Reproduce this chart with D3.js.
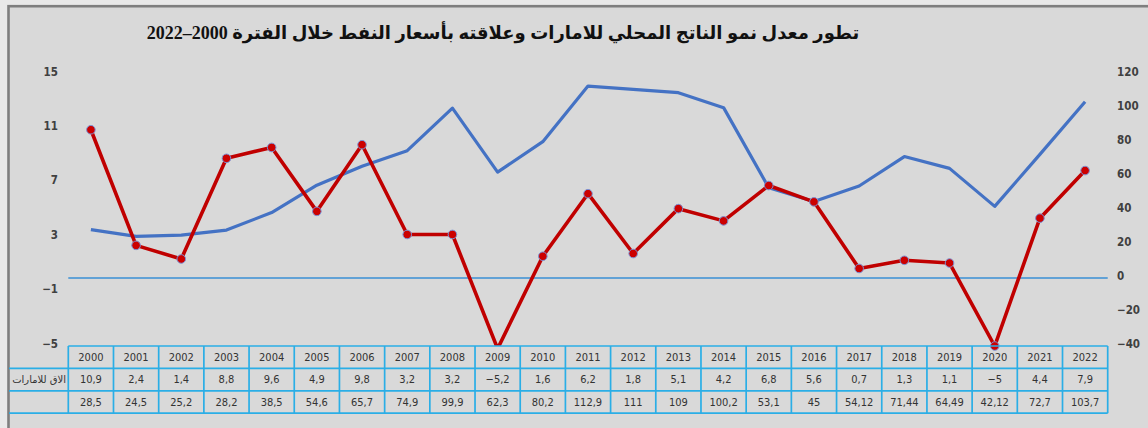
<!DOCTYPE html>
<html>
<head>
<meta charset="utf-8">
<script src="https://cdn.jsdelivr.net/npm/d3@7"></script>
<style>
  body { margin: 0; background: #e9e9e9; }
  svg { display: block; }
</style>
</head>
<body>
<svg></svg>
<script>
// data
var years = ["2000","2001","2002","2003","2004","2005","2006","2007","2008","2009","2010","2011",
             "2012","2013","2014","2015","2016","2017","2018","2019","2020","2021","2022"];
var gdpGrowth = [10.9, 2.4, 1.4, 8.8, 9.6, 4.9, 9.8, 3.2, 3.2, -5.2, 1.6, 6.2,
                 1.8, 5.1, 4.2, 6.8, 5.6, 0.7, 1.3, 1.1, -5, 4.4, 7.9];
var oilPrice = [28.5, 24.5, 25.2, 28.2, 38.5, 54.6, 65.7, 74.9, 99.9, 62.3, 80.2, 112.9,
                111, 109, 100.2, 53.1, 45, 54.12, 71.44, 64.49, 42.12, 72.7, 103.7];
var leftTicks = [15, 11, 7, 3, -1, -5];
var rightTicks = [120, 100, 80, 60, 40, 20, 0, -20, -40];
var gdpLabel = "الاق للامارات";
var oilLabel = "";
var title = "تطور معدل نمو الناتج المحلي للامارات وعلاقته بأسعار النفط خلال الفترة 2000–2022";

var width = 1148, height = 428;
var tableTop = 346, rowH = 22.4;

var svg = d3.select("svg")
    .attr("width", width)
    .attr("height", height);

// chart frame
svg.append("rect")
    .attr("x", 8.5).attr("y", 6.2)
    .attr("width", width + 10).attr("height", height + 10)
    .attr("fill", "#d9d9d9")
    .attr("stroke", "#7f7f7f")
    .attr("stroke-width", 2.6);

// scales
var x = d3.scaleBand().domain(years).range([68.3, 1107.7]);
var yL = d3.scaleLinear().domain([-5, 15]).range([tableTop, 74]);
var yR = d3.scaleLinear().domain([-40, 120]).range([tableTop, 74]);

function fmt(v) {
    return String(v).replace(".", ",").replace("-", "−");
}

// title
svg.append("text")
    .attr("x", 503).attr("y", 39)
    .attr("direction", "rtl")
    .attr("text-anchor", "middle")
    .style("font-family", "'Liberation Serif', 'DejaVu Sans', serif")
    .style("font-weight", "bold")
    .style("font-size", "18px")
    .attr("fill", "#111")
    .text(title);

// axes
svg.append("g")
    .attr("transform", "translate(58,0)")
    .call(d3.axisLeft(yL).tickValues(leftTicks).tickSize(0).tickPadding(0).tickFormat(fmt));
svg.append("g")
    .attr("transform", "translate(1117,0)")
    .call(d3.axisRight(yR).tickValues(rightTicks).tickSize(0).tickPadding(0).tickFormat(fmt));
svg.selectAll(".domain").remove();
svg.selectAll(".tick text")
    .attr("dy", "0.1em")
    .style("font-family", "'DejaVu Sans Condensed', 'DejaVu Sans', sans-serif")
    .style("font-weight", "bold")
    .style("font-size", "11.5px")
    .attr("fill", "#404040");

// zero line
svg.append("line")
    .attr("x1", 68.3).attr("x2", 1107.7)
    .attr("y1", yR(0)).attr("y2", yR(0))
    .attr("stroke", "#3a8fd4")
    .attr("stroke-width", 1.6);

svg.append("clipPath").attr("id", "plot")
    .append("rect").attr("x", 60).attr("y", 60).attr("width", 1055).attr("height", tableTop - 60);

// oil price line
var oilLine = d3.line()
    .x(function(d, i) { return x(years[i]) + x.bandwidth() / 2; })
    .y(function(d) { return yR(d); });
svg.append("path")
    .datum(oilPrice)
    .attr("clip-path", "url(#plot)")
    .attr("d", oilLine)
    .attr("fill", "none")
    .attr("stroke", "#4472c4")
    .attr("stroke-width", 3.2)
    .attr("stroke-linejoin", "round");

// gdp growth line
var gdpLine = d3.line()
    .x(function(d, i) { return x(years[i]) + x.bandwidth() / 2; })
    .y(function(d) { return yL(d); });
svg.append("path")
    .datum(gdpGrowth)
    .attr("clip-path", "url(#plot)")
    .attr("d", gdpLine)
    .attr("fill", "none")
    .attr("stroke", "#c00000")
    .attr("stroke-width", 3.6)
    .attr("stroke-linejoin", "round");

svg.append("g")
    .selectAll("circle")
    .data(gdpGrowth.map(function(d, i) { return {year: years[i], v: d}; })
        .filter(function(d) { return d.v >= -5; }))
    .join("circle")
    .attr("cx", function(d) { return x(d.year) + x.bandwidth() / 2; })
    .attr("cy", function(d) { return yL(d.v); })
    .attr("r", 4.3)
    .attr("fill", "#cc0000")
    .attr("stroke", "#7b93d6")
    .attr("stroke-width", 1);

// data table
var rows = [years, gdpGrowth.map(fmt), oilPrice.map(fmt)];
var table = svg.append("g")
    .style("font-family", "'DejaVu Sans Condensed', 'DejaVu Sans', sans-serif")
    .style("font-size", "11px");

rows.forEach(function(row, r) {
    table.append("g")
        .selectAll("text")
        .data(row)
        .join("text")
        .attr("x", function(d, i) { return x(years[i]) + x.bandwidth() / 2; })
        .attr("y", tableTop + rowH * r + rowH / 2)
        .attr("dy", "0.35em")
        .attr("text-anchor", "middle")
        .attr("fill", "#333")
        .text(function(d) { return d; });
});

// series labels (clipped like the original cells)
svg.append("clipPath").attr("id", "labelcell")
    .append("rect").attr("x", 10).attr("y", tableTop).attr("width", 57).attr("height", rowH * 3);
[gdpLabel, oilLabel].forEach(function(lbl, i) {
    svg.append("text")
        .attr("clip-path", "url(#labelcell)")
        .attr("x", 66).attr("y", tableTop + rowH * (i + 1) + rowH / 2)
        .attr("dy", "0.35em")
        .attr("text-anchor", "end")
        .style("font-family", "'DejaVu Sans', sans-serif")
        .style("font-size", "10px")
        .attr("fill", "#333")
        .text(lbl);
});

// table grid
var grid = svg.append("g")
    .attr("stroke", "#2aaee6")
    .attr("stroke-width", 1.7)
    .attr("fill", "none");
d3.range(4).forEach(function(r) {
    grid.append("line")
        .attr("x1", r === 0 ? 68.3 : 9).attr("x2", 1107.7)
        .attr("y1", tableTop + rowH * r).attr("y2", tableTop + rowH * r);
});
grid.selectAll("line.v")
    .data(years.concat(["end"]))
    .join("line")
    .attr("class", "v")
    .attr("x1", function(d, i) { return 68.3 + x.step() * i; })
    .attr("x2", function(d, i) { return 68.3 + x.step() * i; })
    .attr("y1", tableTop).attr("y2", tableTop + rowH * 3);
</script>
</body>
</html>
